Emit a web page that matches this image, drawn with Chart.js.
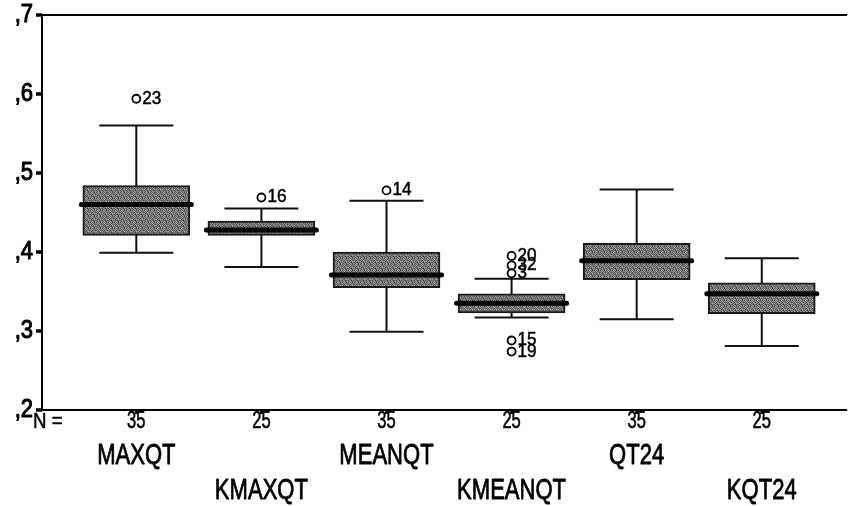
<!DOCTYPE html>
<html>
<head>
<meta charset="utf-8">
<script src="https://cdn.jsdelivr.net/npm/chart.js@4/dist/chart.umd.min.js"></script>
<style>
  html, body { margin: 0; padding: 0; background: #ffffff; }
  #wrap { width: 853px; height: 506px; }
</style>
</head>
<body>
<div id="wrap"><canvas id="chart" width="853" height="506"></canvas></div>
<script>
// Box plot summary per variable
const categories  = ['MAXQT', 'KMAXQT', 'MEANQT', 'KMEANQT', 'QT24', 'KQT24'];
const counts      = [35, 25, 35, 25, 35, 25];
const whiskerLow  = [0.399, 0.381, 0.299, 0.317, 0.315, 0.281];
const q1          = [0.421, 0.421, 0.355, 0.323, 0.365, 0.322];
const medians     = [0.460, 0.428, 0.371, 0.335, 0.389, 0.347];
const q3          = [0.484, 0.439, 0.400, 0.347, 0.411, 0.361];
const whiskerHigh = [0.560, 0.455, 0.465, 0.366, 0.479, 0.392];

// Outlying cases: which box, value, case number
const outlierCategory = [0, 1, 2, 3, 3, 3, 3, 3];
const outlierValues   = [0.594, 0.469, 0.478, 0.395, 0.383, 0.373, 0.288, 0.274];
const outlierIds      = ['23', '16', '14', '20', '32', '3', '15', '19'];

// Y axis ticks
const yTicks      = [0.2, 0.3, 0.4, 0.5, 0.6, 0.7];
const yTickLabels = [',2', ',3', ',4', ',5', ',6', ',7'];

const FONT = '"Liberation Sans", Arial, sans-serif';

// stippled grey fill for the boxes
function makeStipple() {
  const shades = [
    [0x44, 0xa8, 0x70, 0x8a, 0x3a, 0x98],
    [0x90, 0x60, 0xb0, 0x50, 0x88, 0x68],
    [0x6a, 0x8c, 0x40, 0xa0, 0x72, 0x4c],
    [0xa4, 0x48, 0x7e, 0x64, 0xac, 0x80],
    [0x58, 0x94, 0x6c, 0x38, 0x86, 0x5c],
    [0x82, 0x52, 0xa2, 0x78, 0x4a, 0x9a]
  ];
  const c = document.createElement('canvas');
  c.width = 6; c.height = 6;
  const g = c.getContext('2d');
  shades.forEach((row, r) => row.forEach((s, k) => {
    g.fillStyle = 'rgb(' + s + ',' + s + ',' + s + ')';
    g.fillRect(k, r, 1, 1);
  }));
  return g.createPattern(c, 'repeat');
}

function drawText(ctx, text, x, y, size, sx, align, stroke) {
  ctx.save();
  ctx.font = size + 'px ' + FONT;
  ctx.textBaseline = 'middle';
  ctx.textAlign = align || 'center';
  ctx.translate(x, y);
  ctx.scale(sx, 1);
  ctx.fillStyle = '#000';
  ctx.fillText(text, 0, 0);
  if (stroke) {
    ctx.strokeStyle = '#000';
    ctx.lineWidth = stroke;
    ctx.lineJoin = 'round';
    ctx.strokeText(text, 0, 0);
  }
  ctx.restore();
}

const boxPlotPlugin = {
  id: 'boxPlotParts',
  beforeDatasetsDraw(chart) {
    const { ctx, scales: { x, y } } = chart;
    ctx.save();
    ctx.strokeStyle = '#111';
    ctx.lineWidth = 2;
    const capHalf = 37;
    categories.forEach((c, i) => {
      const px = x.getPixelForValue(i);
      const lo = y.getPixelForValue(whiskerLow[i]);
      const hi = y.getPixelForValue(whiskerHigh[i]);
      ctx.beginPath();
      ctx.moveTo(px, lo); ctx.lineTo(px, hi);
      ctx.moveTo(px - capHalf, lo); ctx.lineTo(px + capHalf, lo);
      ctx.moveTo(px - capHalf, hi); ctx.lineTo(px + capHalf, hi);
      ctx.stroke();
    });
    ctx.restore();
  },
  afterDatasetsDraw(chart) {
    const { ctx, scales: { x, y }, chartArea } = chart;
    ctx.save();
    // medians
    ctx.strokeStyle = '#000';
    ctx.lineWidth = 5;
    ctx.lineCap = 'round';
    const half = 55;
    categories.forEach((c, i) => {
      const px = x.getPixelForValue(i);
      const py = y.getPixelForValue(medians[i]);
      ctx.beginPath();
      ctx.moveTo(px - half, py); ctx.lineTo(px + half, py);
      ctx.stroke();
    });
    // outlier case numbers
    outlierValues.forEach((v, k) => {
      const px = x.getPixelForValue(outlierCategory[k]);
      const py = y.getPixelForValue(v);
      drawText(ctx, outlierIds[k], px + 6, py, 18, 0.95, 'left', 0.5);
    });

    // frame: left axis, top and bottom rules
    ctx.strokeStyle = '#000';
    ctx.lineCap = 'butt';
    ctx.lineWidth = 2;
    ctx.beginPath();
    ctx.moveTo(chartArea.left, chartArea.top); ctx.lineTo(chartArea.right, chartArea.top);
    ctx.moveTo(chartArea.left, chartArea.top); ctx.lineTo(chartArea.left, chartArea.bottom);
    ctx.moveTo(chartArea.left, chartArea.bottom); ctx.lineTo(chartArea.right, chartArea.bottom);
    ctx.stroke();

    // y ticks and labels
    ctx.lineWidth = 3.5;
    yTicks.forEach((t, k) => {
      const py = y.getPixelForValue(t);
      ctx.beginPath();
      ctx.moveTo(chartArea.left - 6, py); ctx.lineTo(chartArea.left, py);
      ctx.stroke();
      drawText(ctx, yTickLabels[k], chartArea.left - 9, py, 25, 0.88, 'right', 1.1);
    });

    // x ticks, counts and names
    ctx.lineWidth = 3;
    drawText(ctx, 'N =', 33, 422, 22, 0.85, 'left', 0.5);
    categories.forEach((c, i) => {
      const px = x.getPixelForValue(i);
      ctx.beginPath();
      ctx.moveTo(px, chartArea.bottom); ctx.lineTo(px, chartArea.bottom + 4);
      ctx.stroke();
      drawText(ctx, String(counts[i]), px, 422, 23, 0.72, 'center', 0.6);
      const rowY = (i % 2 === 0) ? 456 : 491;
      drawText(ctx, c, px, rowY, 29, 0.76, 'center', 0.8);
    });
    ctx.restore();
  }
};

new Chart(document.getElementById('chart'), {
  type: 'bar',
  data: {
    datasets: [
      {
        type: 'bar',
        data: categories.map((c, i) => ({ x: i, y: [q1[i], q3[i]] })),
        backgroundColor: makeStipple(),
        borderColor: '#1a1a1a',
        borderWidth: 2,
        borderSkipped: false,
        barThickness: 107,
        order: 2
      },
      {
        type: 'scatter',
        data: outlierValues.map((v, k) => ({ x: outlierCategory[k], y: v })),
        pointStyle: 'circle',
        pointRadius: 4,
        pointBackgroundColor: '#ffffff',
        pointBorderColor: '#000000',
        pointBorderWidth: 1.8,
        order: 1
      }
    ]
  },
  options: {
    responsive: false,
    animation: false,
    devicePixelRatio: 1,
    layout: { padding: { left: 42, top: 15, right: 0, bottom: 96 } },
    plugins: { legend: { display: false }, tooltip: { enabled: false } },
    scales: {
      x: { type: 'linear', display: false, min: -0.754, max: 5.683, offset: false },
      y: { display: false, min: 0.2, max: 0.7 }
    }
  },
  plugins: [boxPlotPlugin]
});
</script>
</body>
</html>
